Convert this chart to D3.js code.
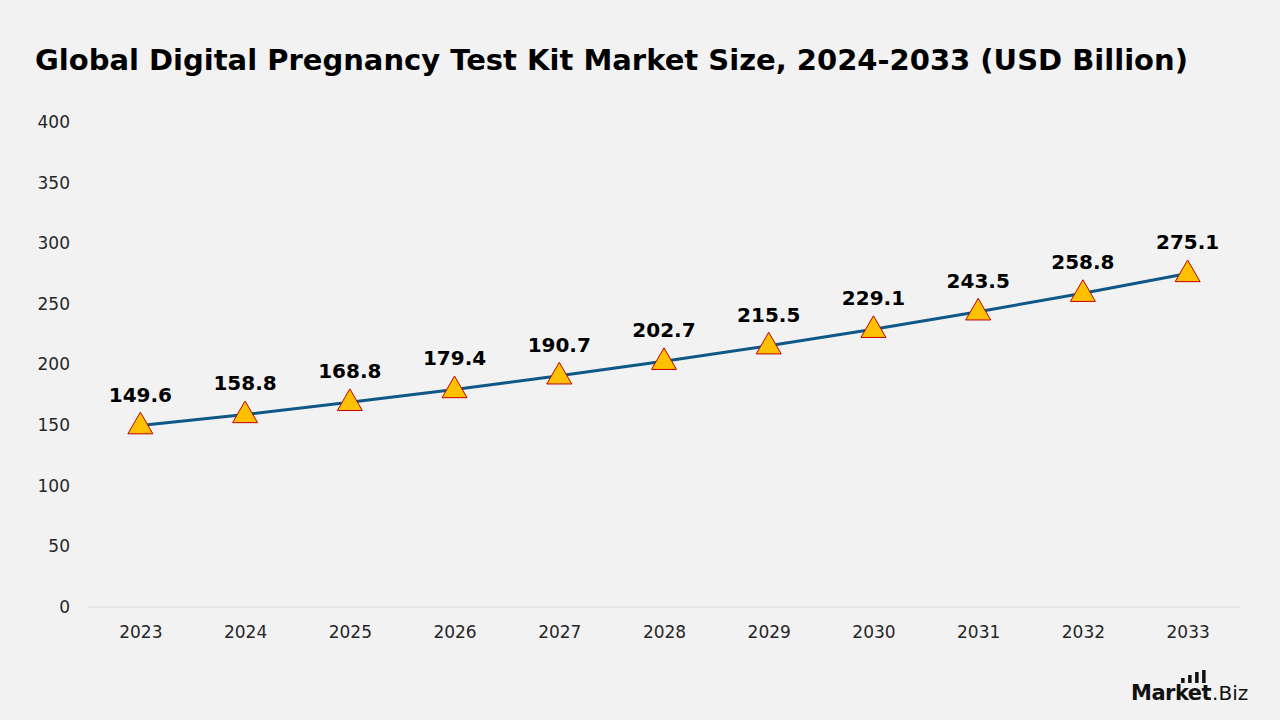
<!DOCTYPE html>
<html>
<head>
<meta charset="utf-8">
<script src="https://cdn.jsdelivr.net/npm/d3@7"></script>
<style>
  body { margin: 0; background: #f2f2f2; }
  svg { display: block; font-family: "DejaVu Sans", sans-serif; }
</style>
</head>
<body>
<svg id="chart" width="1280" height="720"></svg>
<script>
var years = ["2023", "2024", "2025", "2026", "2027", "2028", "2029", "2030", "2031", "2032", "2033"]
var marketSize = [149.6, 158.8, 168.8, 179.4, 190.7, 202.7, 215.5, 229.1, 243.5, 258.8, 275.1]
var yTicks = [0, 50, 100, 150, 200, 250, 300, 350, 400]

var data = years.map((y, i) => ({ year: y, value: marketSize[i] }))

var dims = { width: 1280, height: 720, left: 88, right: 1240, top: 122, bottom: 607 }

var svg = d3.select("#chart")

svg.append("rect")
    .attr("width", dims.width)
    .attr("height", dims.height)
    .attr("fill", "#f2f2f2")

var title = svg.append("text")
    .attr("x", 35)
    .attr("y", 70)
    .attr("font-size", 29)
    .attr("font-weight", 700)
    .attr("fill", "#000")
    .text("Global Digital Pregnancy Test Kit Market Size, 2024-2033 (USD Billion)")
// squeeze/stretch title to the width it has in the original
var tw = title.node().getComputedTextLength()
if (Math.abs(tw - 1165) > 20) title.attr("textLength", 1165).attr("lengthAdjust", "spacingAndGlyphs")

var xScale = d3.scalePoint()
    .domain(years)
    .range([dims.left, dims.right])
    .padding(0.5)

var yScale = d3.scaleLinear()
    .domain([0, 400])
    .range([dims.bottom, dims.top])

// baseline
svg.append("line")
    .attr("x1", dims.left)
    .attr("x2", dims.right)
    .attr("y1", yScale(0))
    .attr("y2", yScale(0))
    .attr("stroke", "#d9d9d9")
    .attr("stroke-width", 1)

var yAxis = svg.append("g")
    .attr("transform", "translate(70,0)")
    .call(d3.axisLeft(yScale).tickValues(yTicks).tickSize(0).tickPadding(0))
yAxis.select(".domain").remove()
yAxis.selectAll("text")
    .attr("font-size", 17)
    .attr("fill", "#262626")
    .attr("font-family", "DejaVu Sans, sans-serif")

var xAxis = svg.append("g")
    .attr("transform", "translate(0," + (yScale(0) + 19) + ")")
    .call(d3.axisBottom(xScale).tickSize(0).tickPadding(0))
xAxis.select(".domain").remove()
xAxis.selectAll("text")
    .attr("font-size", 17)
    .attr("fill", "#262626")
    .attr("font-family", "DejaVu Sans, sans-serif")

var line = d3.line()
    .x(d => xScale(d.year))
    .y(d => yScale(d.value))

svg.append("path")
    .datum(data)
    .attr("d", line)
    .attr("fill", "none")
    .attr("stroke", "#0f5787")
    .attr("stroke-width", 3)

var tri = d3.symbol().type(d3.symbolTriangle).size(270)

svg.append("g")
    .selectAll("path")
    .data(data)
    .enter()
    .append("path")
    .attr("d", tri)
    .attr("transform", d => "translate(" + xScale(d.year) + "," + (yScale(d.value) + 1) + ")")
    .attr("fill", "#ffc000")
    .attr("stroke", "#c00000")
    .attr("stroke-width", 1)

svg.append("g")
    .selectAll("text")
    .data(data)
    .enter()
    .append("text")
    .attr("x", d => xScale(d.year))
    .attr("y", d => yScale(d.value) - 24)
    .attr("text-anchor", "middle")
    .attr("font-size", 20)
    .attr("font-weight", 700)
    .attr("fill", "#000")
    .text(d => d.value.toFixed(1))

// logo
var logo = svg.append("g").attr("transform", "translate(1131,700)")
var mk = logo.append("text")
    .attr("x", 0)
    .attr("y", 0)
    .attr("font-size", 21)
    .attr("font-weight", 700)
    .attr("fill", "#111")
    .attr("letter-spacing", -0.5)
    .text("Market")
var mkw = mk.node().getComputedTextLength()
var barTops = [22, 25, 28, 30]
logo.selectAll("rect.bar")
    .data(barTops)
    .enter()
    .append("rect")
    .attr("class", "bar")
    .attr("x", (d, i) => mkw - 30 + i * 7)
    .attr("y", d => -d)
    .attr("width", 3.5)
    .attr("height", d => d - 17)
    .attr("fill", "#111")
logo.append("text")
    .attr("x", mkw + 1)
    .attr("y", 0)
    .attr("font-size", 20)
    .attr("font-weight", 400)
    .attr("fill", "#111")
    .text(".Biz")
</script>
</body>
</html>
